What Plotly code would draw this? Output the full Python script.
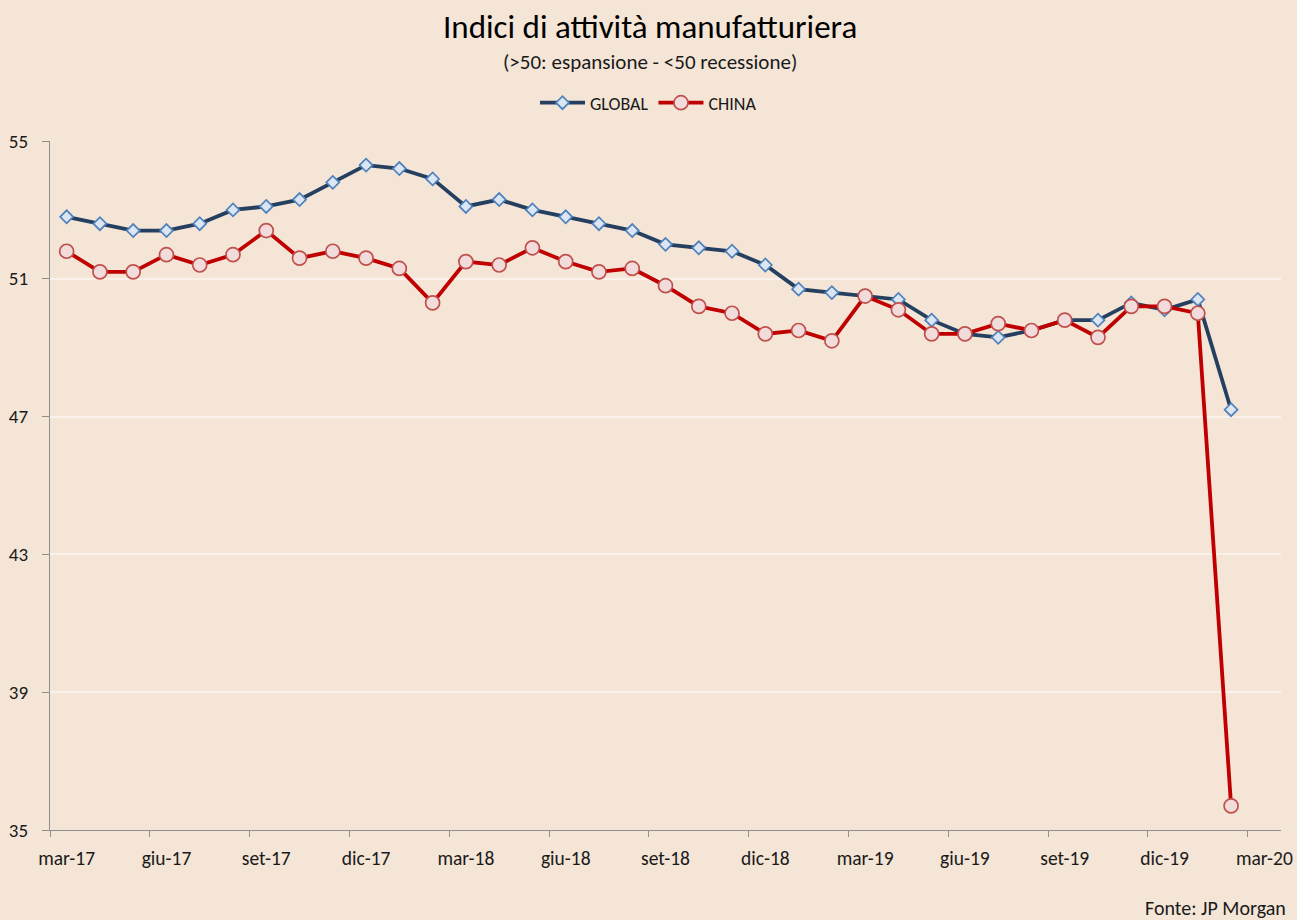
import plotly.graph_objects as go

months = ["mar-17","apr-17","mag-17","giu-17","lug-17","ago-17","set-17","ott-17","nov-17","dic-17",
          "gen-18","feb-18","mar-18","apr-18","mag-18","giu-18","lug-18","ago-18","set-18","ott-18","nov-18","dic-18",
          "gen-19","feb-19","mar-19","apr-19","mag-19","giu-19","lug-19","ago-19","set-19","ott-19","nov-19","dic-19",
          "gen-20","feb-20"]
global_pmi = [52.8, 52.6, 52.4, 52.4, 52.6, 53.0, 53.1, 53.3, 53.8, 54.3, 54.2, 53.9,
              53.1, 53.3, 53.0, 52.8, 52.6, 52.4, 52.0, 51.9, 51.8, 51.4, 50.7, 50.6,
              50.5, 50.4, 49.8, 49.4, 49.3, 49.5, 49.8, 49.8, 50.3, 50.1, 50.4, 47.2]
china_pmi = [51.8, 51.2, 51.2, 51.7, 51.4, 51.7, 52.4, 51.6, 51.8, 51.6, 51.3, 50.3,
             51.5, 51.4, 51.9, 51.5, 51.2, 51.3, 50.8, 50.2, 50.0, 49.4, 49.5, 49.2,
             50.5, 50.1, 49.4, 49.4, 49.7, 49.5, 49.8, 49.3, 50.2, 50.2, 50.0, 35.7]
tick_labels = ["mar-17","giu-17","set-17","dic-17","mar-18","giu-18","set-18","dic-18",
               "mar-19","giu-19","set-19","dic-19","mar-20"]
y_ticks = [35, 39, 43, 47, 51, 55]

FONT = "Calibri, Carlito, Lato, sans-serif"
BG = "#F4E5D6"
AXIS = "#8F8F8F"

x = [i + 0.5 for i in range(len(months))]

fig = go.Figure()
fig.add_trace(go.Scatter(
    x=x, y=global_pmi, name="GLOBAL", mode="lines+markers",
    line=dict(color="#243F60", width=3.8),
    marker=dict(symbol="diamond", size=10, color="#DCE6F2",
                line=dict(color="#4F81BD", width=1.7)),
    text=months, hovertemplate="%{text}: %{y}<extra>GLOBAL</extra>"))
fig.add_trace(go.Scatter(
    x=x, y=china_pmi, name="CHINA", mode="lines+markers",
    line=dict(color="#C00000", width=3.8),
    marker=dict(symbol="circle", size=14, color="#F2DCDB",
                line=dict(color="#C0504D", width=1.7)),
    text=months, hovertemplate="%{text}: %{y}<extra>CHINA</extra>"))

fig.update_layout(
    width=1297, height=920,
    paper_bgcolor=BG, plot_bgcolor=BG,
    margin=dict(l=50, r=16, t=141, b=90),
    font=dict(family=FONT, size=19, color="#1a1a1a"),
    showlegend=True,
    legend=dict(orientation="h", xref="container", yref="container",
                x=0.5, xanchor="center", y=1 - 103/920, yanchor="middle",
                font=dict(size=18, color="#1a1a1a"), bgcolor="rgba(0,0,0,0)",
                itemwidth=45, traceorder="normal"),
    annotations=[
        dict(text="Indici di attività manufatturiera", xref="paper", yref="paper",
             x=(650 - 50) / 1231, y=1 + (141 - 27) / 689, xanchor="center", yanchor="middle",
             showarrow=False, font=dict(size=33, family=FONT, color="#000000")),
        dict(text="(&gt;50: espansione - &lt;50 recessione)", xref="paper", yref="paper",
             x=(650 - 50) / 1231, y=1 + (141 - 62) / 689, xanchor="center", yanchor="middle",
             showarrow=False, font=dict(size=21, family=FONT, color="#1a1a1a")),
        dict(text="Fonte: JP Morgan", xref="paper", yref="paper",
             x=(1288 - 50) / 1231, y=-(908 - 830) / 689, xanchor="right", yanchor="middle",
             showarrow=False, font=dict(size=20, family=FONT, color="#1a1a1a")),
    ],
)

fig.update_xaxes(
    range=[0, 37], showgrid=False, zeroline=False, automargin=False,
    showline=True, linecolor=AXIS, linewidth=1.3,
    tickmode="array", tickvals=[3 * k + 0.5 for k in range(len(tick_labels))],
    ticktext=tick_labels, ticks="", ticklen=0, ticklabelstandoff=10,
    tickfont=dict(size=19.5, family=FONT, color="#1a1a1a"),
    minor=dict(tickmode="linear", tick0=0, dtick=3, ticks="outside", ticklen=6,
               tickcolor=AXIS, tickwidth=1.2, showgrid=False),
)
fig.update_yaxes(
    range=[35, 55], tickmode="array", tickvals=y_ticks, automargin=False,
    showgrid=True, gridcolor="#FAF2EA", gridwidth=1.5, zeroline=False,
    showline=True, linecolor=AXIS, linewidth=1.3,
    ticks="outside", ticklen=7, tickcolor=AXIS, ticklabelstandoff=10,
    tickfont=dict(size=19, family=FONT, color="#1a1a1a"),
)

fig.write_html("out.html", config={"displayModeBar": False},
               post_script="document.body.style.margin='0px';")
